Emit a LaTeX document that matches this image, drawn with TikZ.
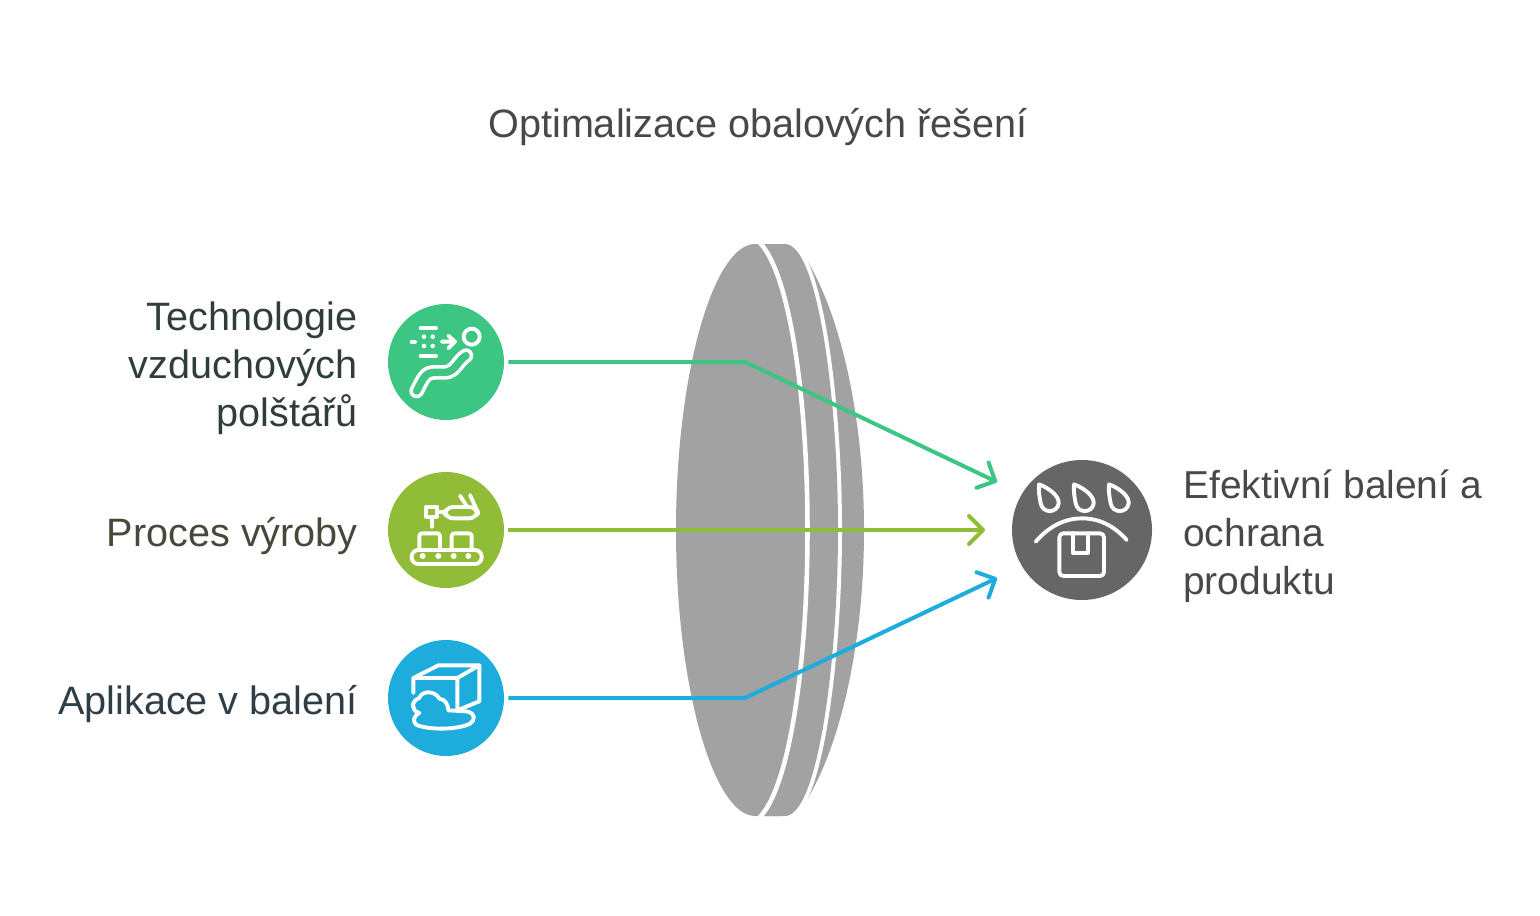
\documentclass[tikz,border=0pt]{standalone}
\usepackage{fontspec}
\setmainfont{Liberation Sans}
\usetikzlibrary{arrows.meta}
\definecolor{cgreen}{HTML}{3CC583}
\definecolor{colive}{HTML}{91BC38}
\definecolor{cblue}{HTML}{1EACDD}
\definecolor{cdark}{HTML}{666666}
\definecolor{clens}{HTML}{A2A2A2}
\definecolor{ctitle}{HTML}{484848}
\definecolor{ctA}{HTML}{2F3E3A}
\definecolor{ctB}{HTML}{46483A}
\definecolor{ctC}{HTML}{2F3E46}
\tikzset{
  bubble/.style={circle,inner sep=0pt,minimum size=87pt},
  lbl/.style={font=\fontsize{29.7pt}{36pt}\selectfont,inner sep=0pt,align=right,anchor=east},
  rlbl/.style={font=\fontsize{29.2pt}{36pt}\selectfont,inner sep=0pt,align=left,anchor=west,text=ctitle},
  conn/.style={line width=3pt,line join=round,shorten <=3pt,
     -{Straight Barb[length=10.5pt,width=21pt,line cap=round,round]}},
  ico/.style={draw=white,line width=2.9pt,line cap=round,line join=round},
  icoz/.style={shift={#1},x=0.25pt,y=-0.25pt}
}
\begin{document}
\begin{tikzpicture}[x=0.75pt,y=-0.75pt]
\useasboundingbox (0,0) rectangle (1540,916);
% lens
\fill[clens] (808,262) .. controls (842,320) and (864,420) .. (864,530)
   .. controls (864,640) and (842,740) .. (808,798) -- cycle;
\path[draw=white,line width=6pt] (765,244) -- (785,244) .. controls (818,244) and (838,400) .. (838,530)
   .. controls (838,660) and (818,816) .. (785,816) -- (765,816) -- cycle;
\fill[clens] (765,244) -- (785,244) .. controls (818,244) and (838,400) .. (838,530)
   .. controls (838,660) and (818,816) .. (785,816) -- (765,816) -- cycle;
\fill[clens] (755,244) .. controls (714,244) and (676,372) .. (676,530)
   .. controls (676,688) and (714,816) .. (755,816)
   -- (780,816) -- (780,244) -- cycle;
\draw[white,line width=3.4pt] (758,241) .. controls (790,270) and (807.5,400) .. (807.5,530)
   .. controls (807.5,660) and (790,790) .. (758,819);
% nodes
\node[bubble,fill=cgreen] (n1) at (446,362) {};
\node[bubble,fill=colive] (n2) at (446,530) {};
\node[bubble,fill=cblue] (n3) at (446,698) {};
\node[circle,inner sep=0pt,minimum size=105pt,fill=cdark] (out) at (1082,530) {};
\node[font=\fontsize{29.7pt}{36pt}\selectfont,text=ctitle,inner sep=0pt] (title) at (758,127) {Optimalizace obalových řešení};
\node[lbl,text=ctA] (l1) at (358,368) {Technologie\\vzduchových\\polštářů};
\node[lbl,text=ctB] (l2) at (358,536) {Proces výroby};
\node[lbl,text=ctC] (l3) at (358,704) {Aplikace v balení};
\node[rlbl] (r1) at (1183,536) {Efektivní balení a\\ochrana\\produktu};
% connectors
\coordinate (k1) at (745,362);
\coordinate (k3) at (745,698);
\coordinate (e1) at (997,482);
\coordinate (e2) at (985,530);
\coordinate (e3) at (997,578);
\draw[conn,cgreen] (n1.east) -- (k1) -- (e1);
\draw[conn,colive] (n2.east) -- (e2);
\draw[conn,cblue] (n3.east) -- (k3) -- (e3);
% icon 1
\begin{scope}[icoz={(380,295)}]
 \draw[ico] (122,100) -- (168,100) (122,182) -- (168,182) (95,140) -- (105,140);
 \fill[white] (132,125) circle (7) (158,125) circle (7) (132,153) circle (7) (158,153) circle (7);
 \draw[ico] (185,140) -- (222,140) (205,122) -- (225,140) -- (205,160);
 \draw[ico] (275,125) circle (24);
 \draw[white,line width=11pt,line cap=round,line join=round] (110,288) .. controls (130,250) and (135,232) .. (165,232) -- (195,232) .. controls (225,232) and (235,195) .. (258,182);
 \draw[cgreen,line width=5.6pt,line cap=round,line join=round] (110,288) .. controls (130,250) and (135,232) .. (165,232) -- (195,232) .. controls (225,232) and (235,195) .. (258,182);
\end{scope}
% icon 2
\begin{scope}[icoz={(380,465)}]
 \draw[ico,rounded corners=5pt] (95,255) rectangle (305,297);
 \fill[white] (128,273) circle (9) (175,273) circle (9) (221,273) circle (9) (265,273) circle (9);
 \draw[ico,rounded corners=2pt] (118,255) -- (118,205) -- (180,205) -- (180,255);
 \draw[ico,rounded corners=2pt] (215,255) -- (215,205) -- (275,205) -- (275,255);
 \draw[ico] (138,125) rectangle (170,155);
 \draw[ico] (155,155) -- (155,185) (170,140) -- (195,140);
 \draw[ico,rounded corners=6pt] (195,126) rectangle (292,160);
 \draw[ico] (240,92) -- (262,126) (270,90) -- (295,145);
\end{scope}
% icon 3
\begin{scope}[icoz={(380,633)}]
 \draw[ico] (100,180) -- (100,135) -- (175,97) -- (298,97) -- (232,135) -- (100,135);
 \draw[ico] (232,135) -- (232,232) (298,97) -- (298,205) -- (232,232);
 \draw[ico] (205,232) -- (258,235) .. controls (290,240) and (285,262) .. (270,272)
   .. controls (235,290) and (150,292) .. (110,276) .. controls (98,268) and (98,250) .. (118,240)
   .. controls (95,235) and (90,205) .. (118,195) .. controls (125,172) and (165,172) .. (178,197)
   .. controls (195,198) and (205,215) .. (205,232) -- cycle;
\end{scope}
% icon 4
\begin{scope}[icoz={(970,450)}]
 \foreach \d in {0,105,210}{
  \draw[ico,xshift=\d*0.25pt] (207,103) .. controls (240,115) and (268,140) .. (266,160)
     .. controls (262,190) and (218,192) .. (212,160) .. controls (208,140) and (205,120) .. (207,103) -- cycle;
 }
 \draw[ico] (197,275) .. controls (240,225) and (290,205) .. (335,205) .. controls (385,205) and (430,225) .. (470,270);
 \draw[ico,rounded corners=3pt] (268,250) rectangle (402,378);
 \draw[ico] (308,250) -- (308,308) -- (355,308) -- (355,250);
\end{scope}
\end{tikzpicture}
\end{document}
